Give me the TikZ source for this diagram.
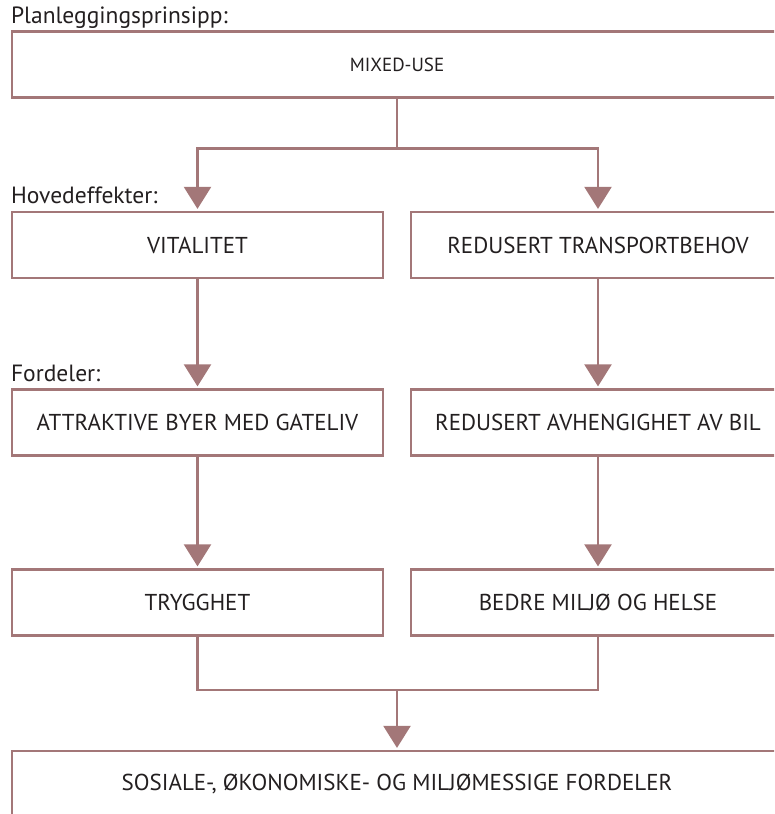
\documentclass[tikz,border=0pt]{standalone}
\usepackage{fontspec}
\setmainfont{PT Sans}
\usetikzlibrary{arrows.meta,positioning}

\definecolor{rosebrown}{RGB}{163,119,120}
\definecolor{inkgray}{RGB}{35,31,32}

\tikzset{
  box/.style={draw=rosebrown, line width=2.2pt, rectangle, minimum height=66pt,
    text=inkgray, font=\fontsize{23}{27}\selectfont, inner sep=0pt},
  heading/.style={anchor=base west, text=inkgray, font=\fontsize{23.5}{27}\selectfont, inner sep=0pt},
  link/.style={draw=rosebrown, line width=2.2pt},
  arrow/.style={link, -{Triangle[width=27pt,length=22pt]}, shorten >=2pt}
}

\begin{document}
\begin{tikzpicture}[x=1pt,y=-1pt]
  \path[use as bounding box, clip] (0,0) rectangle (774,814);

  % boxes
  \node[box, minimum width=770pt] (principle) at (397,64.5) {\fontsize{19}{22}\selectfont MIXED-USE};
  \node[box, minimum width=371pt] (vital) at (197.5,245) {VITALITET};
  \node[box, minimum width=374pt] (transp) at (598,245) {REDUSERT TRANSPORTBEHOV};
  \node[box, minimum width=371pt] (gateliv) at (197.5,422.5) {ATTRAKTIVE BYER MED GATELIV};
  \node[box, minimum width=374pt] (bil) at (598,422.5) {REDUSERT AVHENGIGHET AV BIL};
  \node[box, minimum width=371pt] (trygg) at (197.5,602.5) {TRYGGHET};
  \node[box, minimum width=374pt] (miljo) at (598,602.5) {BEDRE MILJØ OG HELSE};
  \node[box, minimum width=770pt] (result) at (397,784) {SOSIALE-, ØKONOMISKE- OG MILJØMESSIGE FORDELER};

  % headings
  \node[heading] (h1) at ([yshift=7pt]principle.north west) {Planleggingsprinsipp:};
  \node[heading] (h2) at ([yshift=7pt]vital.north west) {Hovedeffekter:};
  \node[heading] (h3) at ([yshift=7pt]gateliv.north west) {Fordeler:};

  % connectors
  \coordinate (split) at (397,148.5);
  \coordinate (merge) at (397,690);
  \draw[link] (principle.south) -- (split);
  \draw[arrow] (split) -| (vital.north);
  \draw[arrow] (split) -| (transp.north);
  \draw[arrow] (vital) -- (gateliv);
  \draw[arrow] (transp) -- (bil);
  \draw[arrow] (gateliv) -- (trygg);
  \draw[arrow] (bil) -- (miljo);
  \draw[link] (trygg.south) |- (merge) -| (miljo.south);
  \draw[arrow] (merge) -- (result.north);
\end{tikzpicture}
\end{document}
